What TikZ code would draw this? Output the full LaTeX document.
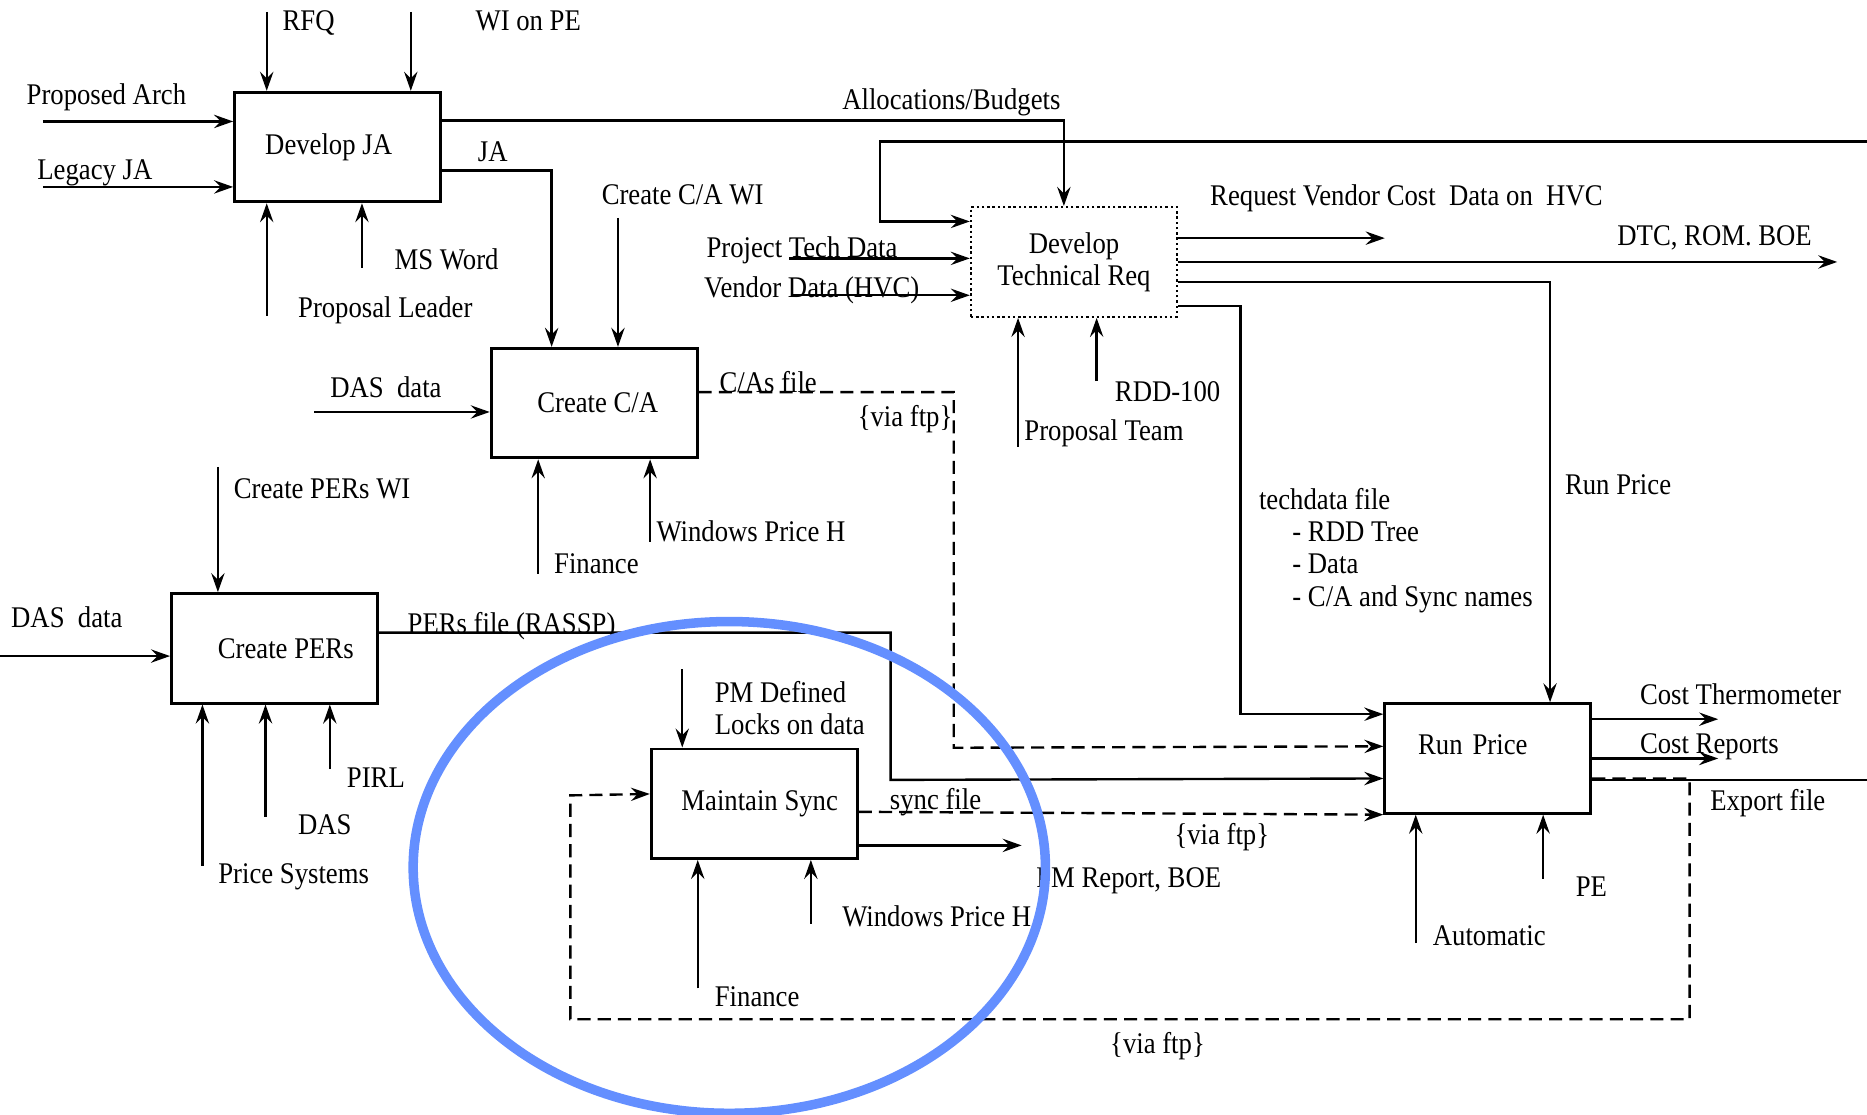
\documentclass[tikz,border=0pt]{standalone}
\usepackage{fontspec}
\setmainfont{Liberation Serif}[FakeStretch=0.89]
\usetikzlibrary{arrows.meta,calc}
\definecolor{ringblue}{RGB}{100,143,255}
\begin{document}
\begin{tikzpicture}[x=0.5pt,y=-0.5pt,
  every node/.style={font=\fontsize{12.6pt}{13.5pt}\selectfont},
  box/.style={draw, line width=1.2pt, minimum width=86.5pt, minimum height=46pt, inner sep=0pt},
  dotbox/.style={box, line width=1pt, dash pattern=on 1pt off 1.2pt, align=center},
  lbl/.style={anchor=base west, inner sep=0pt},
  conn/.style={line width=1pt},
  arr/.style={conn, -{Stealth[length=8pt,width=5.6pt,inset=2.8pt]}},
  dsharr/.style={arr, dash pattern=on 5.5pt off 3pt},
  ring/.style={draw=ringblue, line width=4pt}
]
\useasboundingbox (0,0) rectangle (1568,936);

% ---------- activity boxes ----------
\node[box] (dja) at (283.5,123.5) {\hspace*{-7.5pt}Develop JA};
\node[box] (cca) at (499,338.5) {\hspace*{3pt}Create C/A};
\node[box] (cper) at (230.5,544.5) {\hspace*{9.5pt}Create PERs};
\node[box] (ms) at (633.5,675) {\hspace*{4.5pt}Maintain Sync};
\node[box, text width=58.5pt, align=left, text depth=12pt] (rp) at (1249.5,637) {Run Price};
\node[dotbox] (dtr) at (902,220) {Develop\\Technical Req};

% ---------- Develop JA ----------
\coordinate (rfq) at (224,10);
\draw[arr] (rfq) -- (rfq |- dja.north);
\node[lbl] (rfq-l) at (237,26) {RFQ};
\coordinate (wipe) at (345,10);
\draw[arr] (wipe) -- (wipe |- dja.north);
\node[lbl] (wipe-l) at (399,26) {WI on PE};
\coordinate (pa) at (36,102);
\draw[arr] (pa) -- (pa -| dja.west);
\node[lbl] (pa-l) at (22,88) {Proposed Arch};
\coordinate (lja) at (36,157);
\draw[arr] (lja) -- (lja -| dja.west);
\node[lbl] (lja-l) at (31,151) {Legacy JA};
\coordinate (pl) at (224,265);
\draw[arr] (pl) -- (pl |- dja.south);
\node[lbl] (pl-l) at (250,267) {Proposal Leader};
\coordinate (msw) at (304,225);
\draw[arr] (msw) -- (msw |- dja.south);
\node[lbl] (msw-l) at (331,226) {MS Word};
\draw[arr] ($(dja.north east)+(0,25)$) -| ($(dtr.north west)+(79,0)$);
\node[anchor=base, inner sep=0pt] (alloc-l) at (799,92) {Allocations/Budgets};
\draw[arr] ($(dja.north east)+(0,67)$) -| ($(cca.north west)+(52,0)$);
\node[lbl] (ja-l) at (401,136) {JA};

% ---------- Create C/A ----------
\coordinate (cwi) at (519,183);
\draw[arr] (cwi) -- (cwi |- cca.north);
\node[lbl] (cwi-l) at (505,172) {Create C/A WI};
\coordinate (dasc) at (264,346);
\draw[arr] (dasc) -- (dasc -| cca.west);
\node[lbl] (dasc-l) at (277,334) {DAS\ \ data};
\coordinate (finc) at (452,482);
\draw[arr] (finc) -- (finc |- cca.south);
\node[lbl] (finc-l) at (465,482) {Finance};
\coordinate (wphc) at (546,455);
\draw[arr] (wphc) -- (wphc |- cca.south);
\node[lbl] (wphc-l) at (551,455) {Windows Price H};
\draw[dsharr] ($(cca.north east)+(0,38)$) -| (801,628) -- ($(rp.north west)+(0,37)$);
\node[lbl] (caf-l) at (604,330) {C/As file};
\node[lbl] (caftp-l) at (720,358) {\{via ftp\}};

% ---------- Develop Technical Req ----------
\coordinate (topr) at (1568,119);
\draw[arr] (topr) -- (739,119) |- ($(dtr.north west)+(0,13)$);
\coordinate (ptd) at (663,217);
\draw[arr] (ptd) -- (ptd -| dtr.west);
\node[lbl] (ptd-l) at (593,216) {Project Tech Data};
\coordinate (vd) at (665,248);
\draw[arr] (vd) -- (vd -| dtr.west);
\node[lbl] (vd-l) at (591,250) {Vendor Data (HVC)};
\coordinate (pt) at (855,375);
\draw[arr] (pt) -- (pt |- dtr.south);
\node[lbl] (pt-l) at (860,370) {Proposal Team};
\coordinate (rdd) at (921,320);
\draw[arr] (rdd) -- (rdd |- dtr.south);
\node[lbl] (rdd-l) at (936,337) {RDD-100};
\coordinate (rvc) at (1163,200);
\draw[arr] (dtr.east |- rvc) -- (rvc);
\node[lbl] (rvc-l) at (1016,173) {Request Vendor Cost\ \ Data on\ \ HVC};
\coordinate (dtc) at (1543,220);
\draw[arr] (dtr.east |- dtc) -- (dtc);
\node[lbl] (dtc-l) at (1358,206) {DTC, ROM. BOE};
\draw[arr] ($(dtr.north east)+(0,64)$) -| ($(rp.north west)+(140,0)$);
\node[lbl] (runp-l) at (1314,415) {Run Price};
\draw[arr] ($(dtr.north east)+(0,84)$) -| ($(rp.north west)+(-120,10)$) -- ($(rp.north west)+(0,10)$);
\node[lbl] (td-l) at (1057,428) {techdata file};
\node[lbl] (td1-l) at (1085,455) {- RDD Tree};
\node[lbl] (td2-l) at (1085,482) {- Data};
\node[lbl] (td3-l) at (1085,509) {- C/A and Sync names};

% ---------- Create PERs ----------
\coordinate (cpwi) at (183,392);
\draw[arr] (cpwi) -- (cpwi |- cper.north);
\node[lbl] (cpwi-l) at (196,419) {Create PERs WI};
\coordinate (dasp) at (0,551);
\draw[arr] (dasp) -- (dasp -| cper.west);
\node[lbl] (dasp-l) at (9,527) {DAS\ \ data};
\coordinate (ps) at (170,727);
\draw[arr] (ps) -- (ps |- cper.south);
\node[lbl] (ps-l) at (183,742) {Price Systems};
\coordinate (das) at (223,686);
\draw[arr] (das) -- (das |- cper.south);
\node[lbl] (das-l) at (250,701) {DAS};
\coordinate (pirl) at (277,646);
\draw[arr] (pirl) -- (pirl |- cper.south);
\node[lbl] (pirl-l) at (291,661) {PIRL};
\draw[arr] ($(cper.north east)+(0,34)$) -| (748,655) -- ($(rp.north west)+(0,64)$);
\node[lbl] (perf-l) at (342,532) {PERs file (RASSP)};

% ---------- Maintain Sync ----------
\coordinate (pmd) at (573,562);
\draw[arr] (pmd) -- (pmd |- ms.north);
\node[lbl] (pmd-l) at (600,590) {PM Defined};
\node[lbl] (lod-l) at (600,617) {Locks on data};
\coordinate (fins) at (586,830);
\draw[arr] (fins) -- (fins |- ms.south);
\node[lbl] (fins-l) at (600,845) {Finance};
\coordinate (wphs) at (681,776);
\draw[arr] (wphs) -- (wphs |- ms.south);
\node[lbl] (wphs-l) at (707,778) {Windows Price H};
\coordinate (pmr) at (858,710);
\draw[arr] (ms.east |- pmr) -- (pmr);
\node[lbl] (pmr-l) at (870,745) {PM Report, BOE};
\draw[dsharr] ($(ms.north east)+(0,54)$) -- (rp.south west);
\node[lbl] (sf-l) at (747,680) {sync file};
\node[lbl] (sftp-l) at (986,709) {\{via ftp\}};
\draw[dsharr] ($(rp.north east)+(0,64)$) -| (1419,856) -| (479,668) -- ($(ms.north west)+(0,39)$);
\node[lbl] (fbtp-l) at (932,885) {\{via ftp\}};

% ---------- Run Price ----------
\coordinate (ct) at (1443,604);
\draw[arr] (rp.east |- ct) -- (ct);
\node[lbl] (ct-l) at (1377,592) {Cost Thermometer};
\coordinate (cr) at (1443,637);
\draw[arr] (rp.east |- cr) -- (cr);
\node[lbl] (cr-l) at (1377,633) {Cost Reports};
\coordinate (exf) at (1568,655);
\draw[conn] (rp.east |- exf) -- (exf);
\node[lbl] (exf-l) at (1436,681) {Export file};
\coordinate (auto) at (1189,792);
\draw[arr] (auto) -- (auto |- rp.south);
\node[lbl] (auto-l) at (1203,794) {Automatic};
\coordinate (pe) at (1296,738);
\draw[arr] (pe) -- (pe |- rp.south);
\node[lbl] (pe-l) at (1323,753) {PE};

% ---------- highlight ring ----------
\draw[ring] (612.5,728.5) ellipse [x radius=265.5, y radius=206.5];
\end{tikzpicture}
\end{document}
